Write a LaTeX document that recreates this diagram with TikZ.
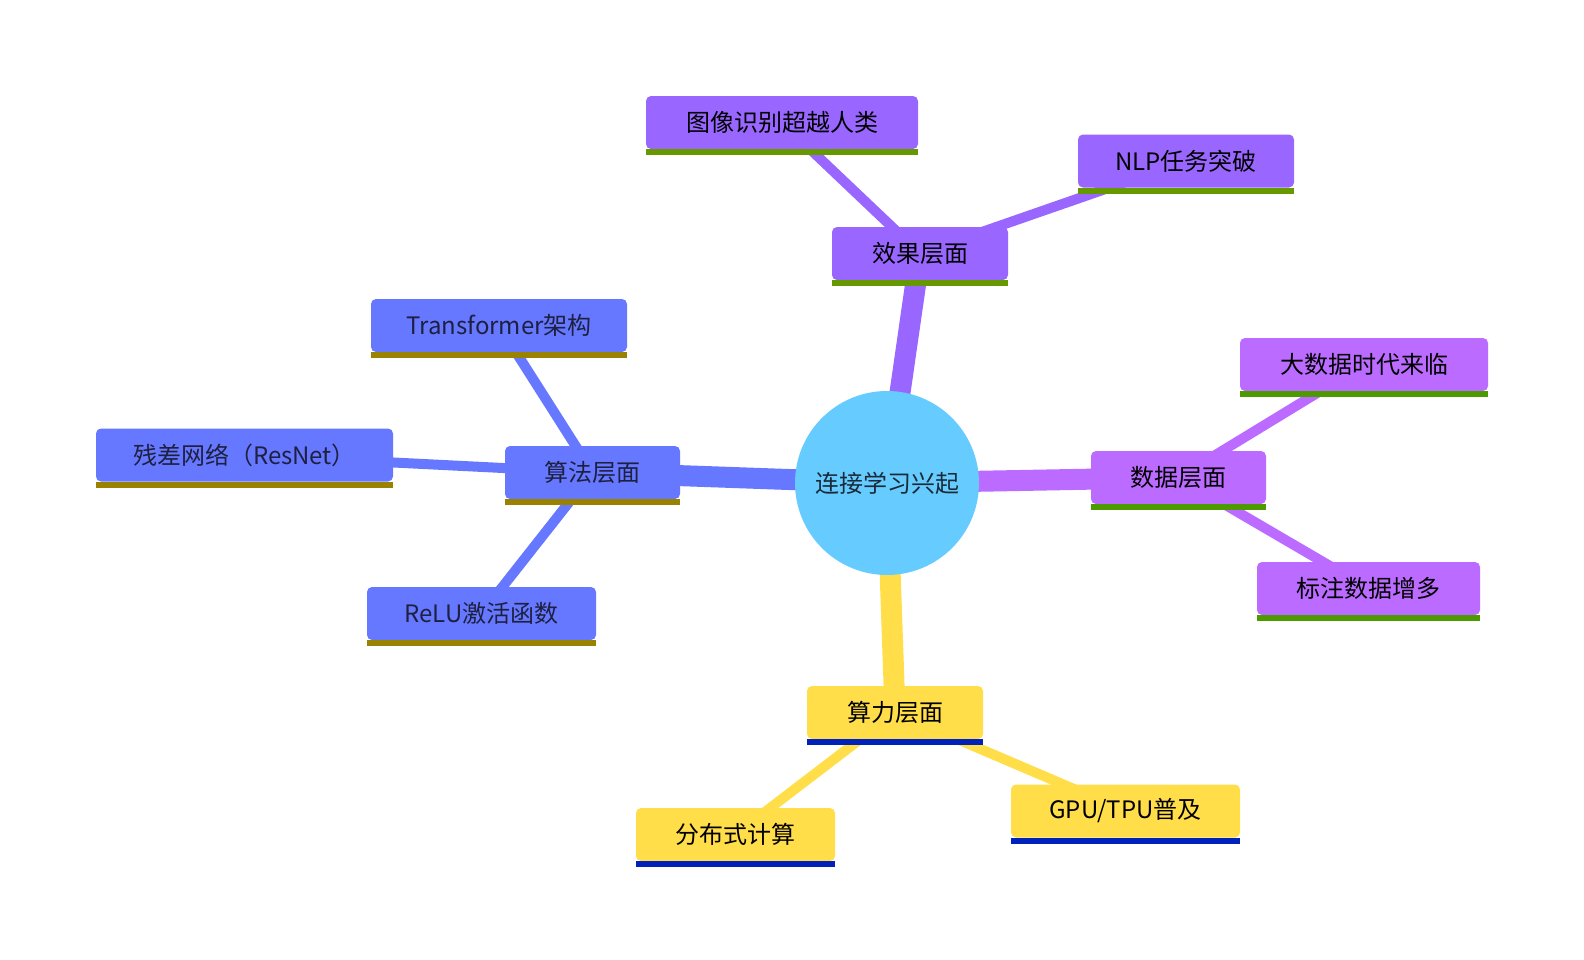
\documentclass[tikz,border=0pt]{standalone}
\usepackage{fontspec}
\setmainfont{Noto Sans CJK SC}
\usetikzlibrary{calc}
\pgfdeclarelayer{bg}
\pgfsetlayers{bg,main}
\definecolor{cCenter}{HTML}{66CCFF}
\definecolor{cAlg}{HTML}{6678FF}
\definecolor{cEff}{HTML}{9966FF}
\definecolor{cDat}{HTML}{BB6BFF}
\definecolor{cCmp}{HTML}{FFDE4A}
\definecolor{uAlg}{HTML}{998200}
\definecolor{uEff}{HTML}{669900}
\definecolor{uDat}{HTML}{4D9900}
\definecolor{uCmp}{HTML}{0022BB}
\definecolor{tAlg}{HTML}{1E2040}
\definecolor{tCtr}{HTML}{1A2A38}
\tikzset{
  mm/.style={rounded corners=5pt, minimum height=53pt, inner sep=0pt, font=\fontsize{24}{24}\selectfont, text=black},
  lvA/.style={mm, fill=cAlg, text=tAlg},
  lvE/.style={mm, fill=cEff},
  lvD/.style={mm, fill=cDat},
  lvC/.style={mm, fill=cCmp},
  ctr/.style={circle, fill=cCenter, minimum size=184pt, inner sep=0pt, font=\fontsize{24}{24}\selectfont, text=tCtr},
  e0/.style={line width=21pt},
  e1/.style={line width=10pt},
}
\newcommand{\uline}[2]{\fill[#2] (#1.south west) rectangle ([yshift=-6pt]#1.south east);}
\begin{document}
\begin{tikzpicture}[x=1pt,y=-1pt]
\useasboundingbox (0,0) rectangle (1584,959);
\node[ctr] (c) at (887,483) {连接学习兴起};
% effect
\node[lvE, minimum width=176pt] (eff) at (920,253.5) {效果层面};
\node[lvE, minimum width=272pt] (img) at (782,122.5) {图像识别超越人类};
\node[lvE, minimum width=216pt] (nlp) at (1186,161) {NLP任务突破};
% data
\node[lvD, minimum width=175pt] (dat) at (1178.5,477.5) {数据层面};
\node[lvD, minimum width=248pt] (big) at (1364,364.5) {大数据时代来临};
\node[lvD, minimum width=223pt] (lab) at (1368.5,588.5) {标注数据增多};
% compute
\node[lvC, minimum width=176pt] (cmp) at (895,712.5) {算力层面};
\node[lvC, minimum width=199pt] (dist) at (735.5,834.5) {分布式计算};
\node[lvC, minimum width=229pt] (gpu) at (1125.5,811) {GPU/TPU普及};
% algorithm
\node[lvA, minimum width=175pt] (alg) at (592.5,472.5) {算法层面};
\node[lvA, minimum width=256pt] (tr) at (499,325.5) {Transformer架构};
\node[lvA, minimum width=297pt] (res) at (244.5,455) {残差网络（ResNet）};
\node[lvA, minimum width=229pt] (relu) at (481.5,613.5) {ReLU激活函数};
% underlines
\uline{eff}{uEff}\uline{img}{uEff}\uline{nlp}{uEff}
\uline{dat}{uDat}\uline{big}{uDat}\uline{lab}{uDat}
\uline{cmp}{uCmp}\uline{dist}{uCmp}\uline{gpu}{uCmp}
\uline{alg}{uAlg}\uline{tr}{uAlg}\uline{res}{uAlg}\uline{relu}{uAlg}
\begin{pgfonlayer}{bg}
\draw[e0, cEff] (c.center) -- (eff.center);
\draw[e0, cDat] (c.center) -- (dat.center);
\draw[e0, cCmp] (c.center) -- (cmp.center);
\draw[e0, cAlg] (c.center) -- (alg.center);
\draw[e1, cEff] (eff.center) -- (img.center);
\draw[e1, cEff] (eff.center) -- (nlp.center);
\draw[e1, cDat] (dat.center) -- (big.center);
\draw[e1, cDat] (dat.center) -- (lab.center);
\draw[e1, cCmp] (cmp.center) -- (dist.center);
\draw[e1, cCmp] (cmp.center) -- (gpu.center);
\draw[e1, cAlg] (alg.center) -- (tr.center);
\draw[e1, cAlg] (alg.center) -- (res.center);
\draw[e1, cAlg] (alg.center) -- (relu.center);
\end{pgfonlayer}
\end{tikzpicture}
\end{document}
